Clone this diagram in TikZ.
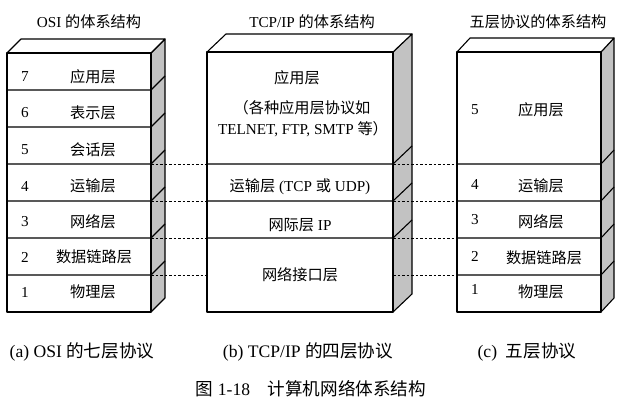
\documentclass[tikz,border=0pt]{standalone}
\usepackage{fontspec}
\setmainfont{Liberation Serif}
\newfontfamily\cjk{Noto Sans CJK SC}
\begin{document}
\begin{tikzpicture}[x=1pt,y=-1pt,
  frontface/.style={draw=black, line width=1.1pt, fill=white, line join=round},
  sideface/.style={draw=black, line width=1.1pt, fill=black!24, line join=round},
  sepline/.style={draw=black, line width=1.1pt, line join=round},
  layerdash/.style={draw=black, line width=0.7pt, dash pattern=on 2.5pt off 2pt},
  lbl/.style={inner sep=0pt, font=\fontsize{15.2}{18}\selectfont},
  captext/.style={inner sep=0pt, font=\fontsize{17.6}{21}\selectfont}]
\useasboundingbox[fill=white] (0,0) rectangle (624,406);

% ---------- OSI box ----------
\path[sideface] (151,53) -- (165,39) -- (165,298) -- (151,312) -- cycle;
\path[frontface] (7,53) -- (21,39) -- (165,39) -- (151,53) -- cycle;
\path[frontface] (7,53) rectangle (151,312);
\foreach \yy in {90,127,164,201,238,275}
  \path[sepline] (7,\yy) -- (151,\yy) -- (165,\yy-14);

% ---------- TCP/IP box ----------
\path[sideface] (393,52) -- (412,34) -- (412,294) -- (393,312) -- cycle;
\path[frontface] (207,52) -- (226,34) -- (412,34) -- (393,52) -- cycle;
\path[frontface] (207,52) rectangle (393,312);
\foreach \yy in {164,201,238}
  \path[sepline] (207,\yy) -- (393,\yy) -- (412,\yy-18);

% ---------- five-layer box ----------
\path[sideface] (601,52) -- (614,38) -- (614,298) -- (601,312) -- cycle;
\path[frontface] (457,52) -- (470,38) -- (614,38) -- (601,52) -- cycle;
\path[frontface] (457,52) rectangle (601,312);
\foreach \yy in {164,201,238,275}
  \path[sepline] (457,\yy) -- (601,\yy) -- (614,\yy-14);

% ---------- dashed connectors ----------
\coordinate (oa) at (151,164); \coordinate (ta) at (207,164);
\coordinate (ob) at (151,201); \coordinate (tb) at (207,201);
\coordinate (oc) at (151,238); \coordinate (tc) at (207,238);
\coordinate (od) at (151,275); \coordinate (td) at (207,275);
\coordinate (ra) at (393,164); \coordinate (fa) at (457,164);
\coordinate (rb) at (393,201); \coordinate (fb) at (457,201);
\coordinate (rc) at (393,238); \coordinate (fc) at (457,238);
\coordinate (rd) at (393,275); \coordinate (fd) at (457,275);
\foreach \a/\b in {oa/ta,ob/tb,oc/tc,od/td,ra/fa,rb/fb,rc/fc,rd/fd}
  \draw[layerdash] (\a) -- (\b);

% ---------- titles ----------
\node[lbl] (t1) at (89,22) {OSI {\cjk 的体系结构}};
\node[lbl] (t2) at (312,22) {TCP/IP {\cjk 的体系结构}};
\node[lbl] (t3) at (538,22) {\cjk 五层协议的体系结构};

% ---------- OSI labels ----------
\node[lbl] (on7) at (25,77) {7};  \node[lbl] (ol7) at (93,77) {\cjk 应用层};
\node[lbl] (on6) at (25,113) {6}; \node[lbl] (ol6) at (93,113) {\cjk 表示层};
\node[lbl] (on5) at (25,150) {5}; \node[lbl] (ol5) at (93,150) {\cjk 会话层};
\node[lbl] (on4) at (25,186) {4}; \node[lbl] (ol4) at (93,186) {\cjk 运输层};
\node[lbl] (on3) at (25,222) {3}; \node[lbl] (ol3) at (93,222) {\cjk 网络层};
\node[lbl] (on2) at (25,257) {2}; \node[lbl] (ol2) at (94,257) {\cjk 数据链路层};
\node[lbl] (on1) at (25,292) {1}; \node[lbl] (ol1) at (93,292) {\cjk 物理层};

% ---------- TCP/IP labels ----------
\node[lbl] (tl4a) at (297,78) {\cjk 应用层};
\node[lbl] (tl4b) at (302,108) {\cjk （各种应用层协议如};
\node[lbl] (tl4c) at (303,129) {TELNET, FTP, SMTP {\cjk 等）}};
\node[lbl] (tl3) at (300,187) {{\cjk 运输层} (TCP {\cjk 或} UDP)};
\node[lbl] (tl2) at (300,225) {{\cjk 网际层} IP};
\node[lbl] (tl1) at (300,275) {\cjk 网络接口层};

% ---------- five-layer labels ----------
\node[lbl] (fn5) at (475,110) {5}; \node[lbl] (fl5) at (541,110) {\cjk 应用层};
\node[lbl] (fn4) at (475,184) {4}; \node[lbl] (fl4) at (541,186) {\cjk 运输层};
\node[lbl] (fn3) at (475,220) {3}; \node[lbl] (fl3) at (541,222) {\cjk 网络层};
\node[lbl] (fn2) at (475,256) {2}; \node[lbl] (fl2) at (544,258) {\cjk 数据链路层};
\node[lbl] (fn1) at (475,289) {1}; \node[lbl] (fl1) at (541,292) {\cjk 物理层};

% ---------- captions ----------
\node[captext] (ca) at (82,352) {(a) OSI {\cjk 的七层协议}};
\node[captext] (cb) at (308,352) {(b) TCP/IP {\cjk 的四层协议}};
\node[captext] (cc) at (527,352) {(c)\ \ {\cjk 五层协议}};
\node[captext] (fig) at (311,389) {{\cjk 图} 1-18\quad {\cjk 计算机网络体系结构}};
\end{tikzpicture}
\end{document}
